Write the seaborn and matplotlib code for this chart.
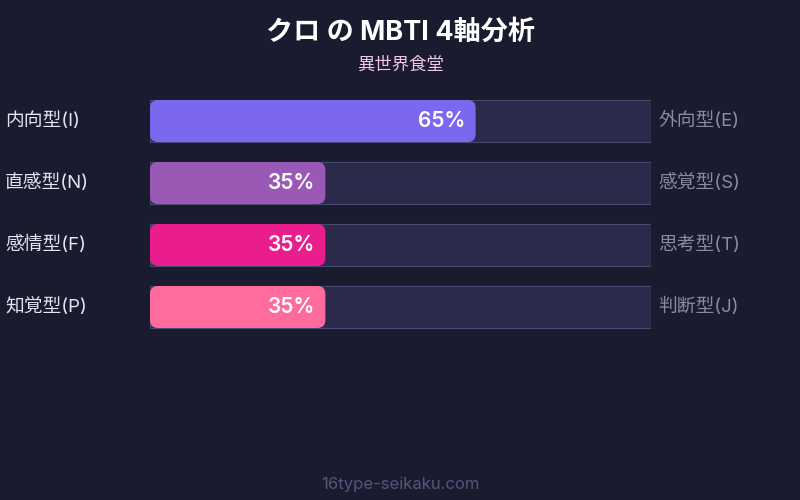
import matplotlib
matplotlib.use("Agg")
import matplotlib.pyplot as plt
import seaborn as sns
import pandas as pd
from matplotlib.patches import FancyBboxPatch

# data
left_labels = ["内向型(I)", "直感型(N)", "感情型(F)", "知覚型(P)"]
right_labels = ["外向型(E)", "感覚型(S)", "思考型(T)", "判断型(J)"]
values = [65, 35, 35, 35]
colors = ["#7b68ee", "#9b59b6", "#e91e8c", "#ff6b9d"]
title = "クロ の MBTI 4軸分析"
subtitle = "異世界食堂"
footer = "16type-seikaku.com"

BG = "#1a1b2e"
TRACK = "#2c2a4a"
TRACK_EDGE = "#4a4870"

sns.set_theme(style="dark")
plt.rcParams["font.family"] = ["Inter", "Noto Sans CJK JP", "DejaVu Sans"]

df = pd.DataFrame({"axis": left_labels, "value": values, "full": [100] * len(values)})

fig = plt.figure(figsize=(8, 5), dpi=100, facecolor=BG)
ax = fig.add_axes([150 / 800, 1 - 338 / 500, 501 / 800, 248 / 500])
ax.set_facecolor(BG)

bar_w = 42 / 62
# background tracks
sns.barplot(data=df, x="full", y="axis", orient="h", color=TRACK, width=bar_w,
            edgecolor=TRACK_EDGE, linewidth=0.8, ax=ax, saturation=1)
track_patches = list(ax.patches)

# filled parts, redrawn with rounded corners
px_x = 501 / 100
px_y = 62
radius = 8 / px_x
for i, (v, c) in enumerate(zip(values, colors)):
    p = track_patches[i]
    y0 = p.get_y()
    h = p.get_height()
    box = FancyBboxPatch((0, y0), v, h,
                         boxstyle=f"round,pad=0,rounding_size={radius}",
                         mutation_aspect=(8 / px_y) / radius,
                         facecolor=c, edgecolor="none", zorder=3)
    ax.add_patch(box)
    ax.text(v - 10 / px_x, i, f"{v}%", ha="right", va="center", color="white",
            fontsize=15, fontweight="semibold", zorder=4)
    ax.text(-145 / px_x, i, left_labels[i], ha="left", va="center",
            color="#e4e4f2", fontsize=13.5, zorder=4)
    ax.text(100 + 7 / px_x, i, right_labels[i], ha="left", va="center",
            color="#8a8aa3", fontsize=13.5, zorder=4)

ax.set_xlim(0, 100)
ax.set_ylim(3.5, -0.5)
ax.set_xlabel("")
ax.set_ylabel("")
ax.set_xticks([])
ax.set_yticks([])
for s in ax.spines.values():
    s.set_visible(False)

fig.text(0.5, 1 - 33 / 500, title, ha="center", va="center", color="white",
         fontsize=19.5, fontweight="bold")
fig.text(0.5, 1 - 65 / 500, subtitle, ha="center", va="center", color="#f0c6e4",
         fontsize=12.5)
fig.text(0.5, 1 - 485 / 500, footer, ha="center", va="center", color="#55557a",
         fontsize=12)

fig.savefig("out.png", dpi=100, facecolor=BG)
